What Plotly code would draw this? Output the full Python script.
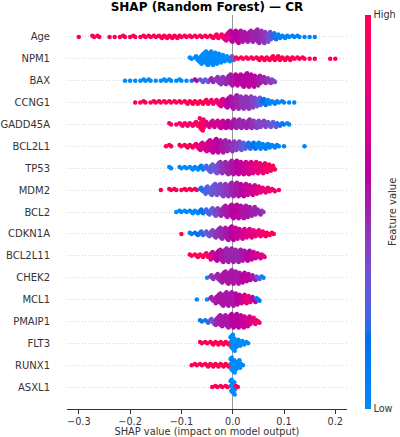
import numpy as np
import plotly.graph_objects as go

# ---------------- data ----------------
features = ["Age", "NPM1", "BAX", "CCNG1", "GADD45A", "BCL2L1", "TP53", "MDM2",
            "BCL2", "CDKN1A", "BCL2L11", "CHEK2", "MCL1", "PMAIP1", "FLT3", "RUNX1", "ASXL1"]

bin_width = 0.01  # SHAP-value bin width used to read the swarm densities

# per feature: first bin centre, number of points per bin, mean feature value per bin (0=low,1=high)
age_start = -0.30
age_counts = [1, 0, 0, 2, 2, 0, 1, 1, 1, 2, 1, 2, 1, 2, 2, 2, 3, 3, 3, 3, 2, 2, 2, 2, 2, 2, 3, 4, 5, 8,
              10, 11, 10, 9, 10, 12, 11, 9, 6, 4, 3, 2, 2, 2, 1, 1, 1]
age_values = [1.0] * 27 + [0.95, 0.9, 0.75, 0.6, 0.6, 0.55, 0.55, 0.5, 0.5, 0.45, 0.35, 0.2] + [0.05] * 8

npm1_start = -0.08
npm1_counts = [2, 5, 9, 12, 12, 10, 7, 5, 4, 2, 2, 2, 2, 3, 3, 3, 4, 4, 3, 3, 2, 2, 2, 1, 1, 0, 0, 1, 1]
npm1_values = [0.0] * 8 + [0.3] + [1.0] * 20

bax_start = -0.21
bax_counts = [1, 1, 1, 1, 2, 2, 1, 1, 2, 2, 1, 2, 1, 1, 2, 3, 3, 4, 6, 7, 8, 10, 10, 11, 12, 11, 9, 6, 5, 3]
bax_values = [0.0] * 13 + [0.2, 0.6, 0.3, 0.3, 0.5, 0.45, 0.45, 0.5, 0.55, 0.6, 0.6, 0.6, 0.6, 0.55, 0.5, 0.45, 0.4]

ccng1_start = -0.19
ccng1_counts = [1, 1, 2, 1, 2, 2, 2, 2, 2, 2, 3, 3, 3, 3, 4, 4, 5, 7, 9, 11, 12, 11, 11, 10, 8, 6, 4, 3, 2, 2, 1, 1]
ccng1_values = [1.0] * 15 + [0.9, 0.85, 0.7, 0.6, 0.55, 0.5, 0.45, 0.45, 0.4, 0.3, 0.15] + [0.05] * 6

gadd45a_start = -0.12
gadd45a_counts = [2, 1, 3, 3, 3, 4, 11, 5, 6, 6, 7, 7, 8, 8, 7, 8, 7, 7, 6, 5, 5, 3, 2, 2]
gadd45a_values = [0.9] * 6 + [0.95, 0.75, 0.7, 0.7, 0.65, 0.6, 0.55, 0.5, 0.5, 0.5, 0.45, 0.4, 0.4, 0.35,
                              0.3, 0.2, 0.1, 0.05]

bcl2l1_start = -0.13
bcl2l1_counts = [1, 2, 0, 2, 3, 3, 5, 7, 9, 11, 12, 11, 10, 9, 8, 7, 6, 6, 6, 5, 4, 3, 2, 1, 0, 0, 0, 1]
bcl2l1_values = [1.0] * 6 + [0.85, 0.75, 0.7, 0.65, 0.6, 0.55, 0.5, 0.45, 0.4, 0.3, 0.2, 0.15] + [0.05] * 10

tp53_start = -0.12
tp53_counts = [2, 0, 2, 2, 3, 3, 4, 5, 7, 9, 10, 11, 12, 12, 11, 11, 10, 10, 9, 7, 4]
tp53_values = [0.0] * 6 + [0.1, 0.25, 0.3, 0.35, 0.45, 0.5, 0.55, 0.6, 0.65, 0.7, 0.75, 0.8, 0.85, 0.9, 0.95]

mdm2_start = -0.14
mdm2_counts = [1, 0, 2, 2, 1, 2, 2, 2, 4, 7, 9, 10, 11, 11, 12, 12, 11, 10, 9, 7, 5, 4, 3, 1]
mdm2_values = [1.0] * 8 + [0.2, 0.25, 0.3, 0.35, 0.4, 0.45, 0.5, 0.55, 0.6, 0.65, 0.7, 0.75, 0.8, 0.85, 0.85, 0.9]

bcl2_start = -0.11
bcl2_counts = [1, 2, 2, 3, 3, 4, 5, 6, 7, 8, 10, 12, 12, 11, 10, 8, 5, 2]
bcl2_values = [0.0] * 5 + [0.15, 0.25, 0.3, 0.4, 0.5, 0.55, 0.6, 0.6, 0.55, 0.55, 0.5, 0.5, 0.45]

cdkn1a_start = -0.10
cdkn1a_counts = [1, 0, 2, 3, 4, 5, 6, 8, 10, 11, 12, 10, 9, 8, 7, 6, 5, 3, 2]
cdkn1a_values = [1.0, 0.5, 0.1, 0.15, 0.2, 0.3, 0.4, 0.45, 0.5, 0.55, 0.6, 0.65, 0.7, 0.75, 0.8, 0.85,
                 0.9, 0.95, 1.0]

bcl2l11_start = -0.08
bcl2l11_counts = [2, 3, 3, 4, 7, 9, 11, 12, 12, 11, 10, 9, 7, 5, 3]
bcl2l11_values = [1.0, 1.0, 0.95, 0.9, 0.7, 0.6, 0.55, 0.5, 0.5, 0.5, 0.55, 0.6, 0.65, 0.7, 0.75]

chek2_start = -0.05
chek2_counts = [1, 4, 6, 9, 11, 12, 11, 9, 7, 5, 3, 2]
chek2_values = [0.0, 0.45, 0.5, 0.55, 0.55, 0.55, 0.55, 0.6, 0.6, 0.55, 0.3, 0.05]

mcl1_start = -0.07
mcl1_counts = [1, 0, 1, 4, 8, 11, 12, 12, 10, 8, 7, 5, 3]
mcl1_values = [0.0, 0.0, 0.0, 0.5, 0.55, 0.55, 0.55, 0.55, 0.6, 0.7, 0.8, 0.6, 0.1]

pmaip1_start = -0.06
pmaip1_counts = [2, 3, 5, 8, 10, 11, 12, 12, 11, 9, 6, 3]
pmaip1_values = [0.1, 0.2, 0.35, 0.5, 0.55, 0.55, 0.6, 0.6, 0.65, 0.7, 0.8, 0.9]

flt3_start = -0.06
flt3_counts = [2, 2, 3, 3, 3, 3, 14, 7, 4, 2]
flt3_values = [1.0] * 6 + [0.0] * 4

runx1_start = -0.08
runx1_counts = [1, 2, 2, 3, 3, 3, 3, 3, 13, 8, 2]
runx1_values = [1.0] * 8 + [0.0] * 3

asxl1_start = -0.04
asxl1_counts = [1, 2, 2, 2, 13, 2]
asxl1_values = [1.0, 1.0, 1.0, 1.0, 0.0, 1.0]

x_tick_values = [-0.3, -0.2, -0.1, 0.0, 0.1, 0.2]
x_tick_labels = ["\u22120.3", "\u22120.2", "\u22120.1", "0.0", "0.1", "0.2"]

# ---------------- build swarm ----------------
rows = [
    (age_start, age_counts, age_values),
    (npm1_start, npm1_counts, npm1_values),
    (bax_start, bax_counts, bax_values),
    (ccng1_start, ccng1_counts, ccng1_values),
    (gadd45a_start, gadd45a_counts, gadd45a_values),
    (bcl2l1_start, bcl2l1_counts, bcl2l1_values),
    (tp53_start, tp53_counts, tp53_values),
    (mdm2_start, mdm2_counts, mdm2_values),
    (bcl2_start, bcl2_counts, bcl2_values),
    (cdkn1a_start, cdkn1a_counts, cdkn1a_values),
    (bcl2l11_start, bcl2l11_counts, bcl2l11_values),
    (chek2_start, chek2_counts, chek2_values),
    (mcl1_start, mcl1_counts, mcl1_values),
    (pmaip1_start, pmaip1_counts, pmaip1_values),
    (flt3_start, flt3_counts, flt3_values),
    (runx1_start, runx1_counts, runx1_values),
    (asxl1_start, asxl1_counts, asxl1_values),
]

n_rows = len(features)
layer_step = 0.056  # vertical offset per swarm layer (in row units)
xs, ys, cs = [], [], []
for i, (start, counts, vals) in enumerate(rows):
    y0 = n_rows - 1 - i
    for j, (n, v) in enumerate(zip(counts, vals)):
        centre = start + j * bin_width
        for k in range(n):
            layer = int(np.ceil(k / 2)) * (1 if k % 2 == 1 else -1)
            frac = ((k * 0.618034 + 0.5) % 1.0) - 0.5
            xs.append(centre + frac * bin_width * 0.95)
            ys.append(y0 + layer * layer_step)
            cs.append(v)


# SHAP red_blue colormap (LCH interpolation)
def lch2rgb(L, C, h):
    a = C * np.cos(h)
    b = C * np.sin(h)
    fy = (L + 16) / 116
    fx = fy + a / 500
    fz = fy - b / 200

    def finv(t):
        return t ** 3 if t > 6 / 29 else 3 * (6 / 29) ** 2 * (t - 4 / 29)

    X = 0.95047 * finv(fx)
    Y = finv(fy)
    Z = 1.08883 * finv(fz)
    r = 3.2406 * X - 1.5372 * Y - 0.4986 * Z
    g = -0.9689 * X + 1.8758 * Y + 0.0415 * Z
    bb = 0.0557 * X - 0.2040 * Y + 1.0570 * Z

    def gam(c):
        c = min(max(c, 0.0), 1.0)
        return 1.055 * c ** (1 / 2.4) - 0.055 if c > 0.0031308 else 12.92 * c

    return [gam(r), gam(g), gam(bb)]


blue_lch = [54., 70., 4.6588]
red_lch = [54., 90., 0.35470565 + 2 * np.pi]
l_mid = 40.
nsteps = 100
l_vals = list(np.linspace(blue_lch[0], l_mid, nsteps // 2)) + list(np.linspace(l_mid, red_lch[0], nsteps // 2))
c_vals = np.linspace(blue_lch[1], red_lch[1], nsteps)
h_vals = np.linspace(blue_lch[2], red_lch[2], nsteps)
colorscale = []
for pos, l, c, h in zip(np.linspace(0, 1, nsteps), l_vals, c_vals, h_vals):
    r, g, b = lch2rgb(l, c, h)
    colorscale.append([float(pos), "rgb(%d,%d,%d)" % (round(r * 255), round(g * 255), round(b * 255))])

# ---------------- figure ----------------
L_M, R_M, T_M, B_M = 67, 53, 15, 28
W, H = 400, 437
plot_w = W - L_M - R_M

fig = go.Figure()
fig.add_trace(go.Scatter(
    x=xs, y=ys, mode="markers", hoverinfo="skip",
    marker=dict(
        size=4.5, color=cs, cmin=0, cmax=1, colorscale=colorscale, line=dict(width=0),
        showscale=True,
        colorbar=dict(
            thickness=6, len=1, lenmode="fraction", y=0.5, yanchor="middle",
            x=(365 - L_M) / plot_w, xanchor="left", xpad=0, ypad=0, outlinewidth=0,
            tickvals=[0, 1], ticktext=["Low", "High"], ticks="", ticklen=0,
            tickfont=dict(size=9.7, color="#333333", family="DejaVu Sans"),
        ),
    ),
))

fig.add_annotation(
    text="Feature value", textangle=-90, x=(392 - L_M) / plot_w, y=0.5,
    xref="paper", yref="paper", showarrow=False, xanchor="center", yanchor="middle",
    font=dict(size=10, color="#333333", family="DejaVu Sans"),
)

fig.update_layout(
    width=W, height=H,
    margin=dict(l=L_M, r=R_M, t=T_M, b=B_M, autoexpand=False),
    plot_bgcolor="white", paper_bgcolor="white", showlegend=False,
    font=dict(family="DejaVu Sans", color="#333333"),
    title=dict(text="<b>SHAP (Random Forest) \u2014 CR</b>", x=0.5, xref="paper",
               y=1 - 6.5 / H, yref="container", yanchor="middle",
               font=dict(size=12, color="black", family="DejaVu Sans")),
)

fig.update_xaxes(
    range=[-0.323, 0.2228], tickvals=x_tick_values, ticktext=x_tick_labels,
    ticks="outside", ticklen=3.5, tickwidth=1, tickcolor="#333333",
    tickfont=dict(size=9.7, color="#333333"),
    showline=True, linecolor="#333333", linewidth=1, mirror=False,
    showgrid=False, zeroline=True, zerolinecolor="#999999", zerolinewidth=1.3,
    title=dict(text="SHAP value (impact on model output)", font=dict(size=9.8, color="#333333"), standoff=4),
    automargin=False, fixedrange=True,
)
fig.update_yaxes(
    range=[-1, n_rows], tickvals=list(range(n_rows)), ticktext=features[::-1],
    ticks="", tickfont=dict(size=10, color="#333333"), ticklabelstandoff=16,
    showgrid=True, gridcolor="#d4d4d4", gridwidth=0.8, griddash="1px,2px",
    zeroline=False, showline=False, automargin=False, fixedrange=True,
)

fig.write_html("out.html")
